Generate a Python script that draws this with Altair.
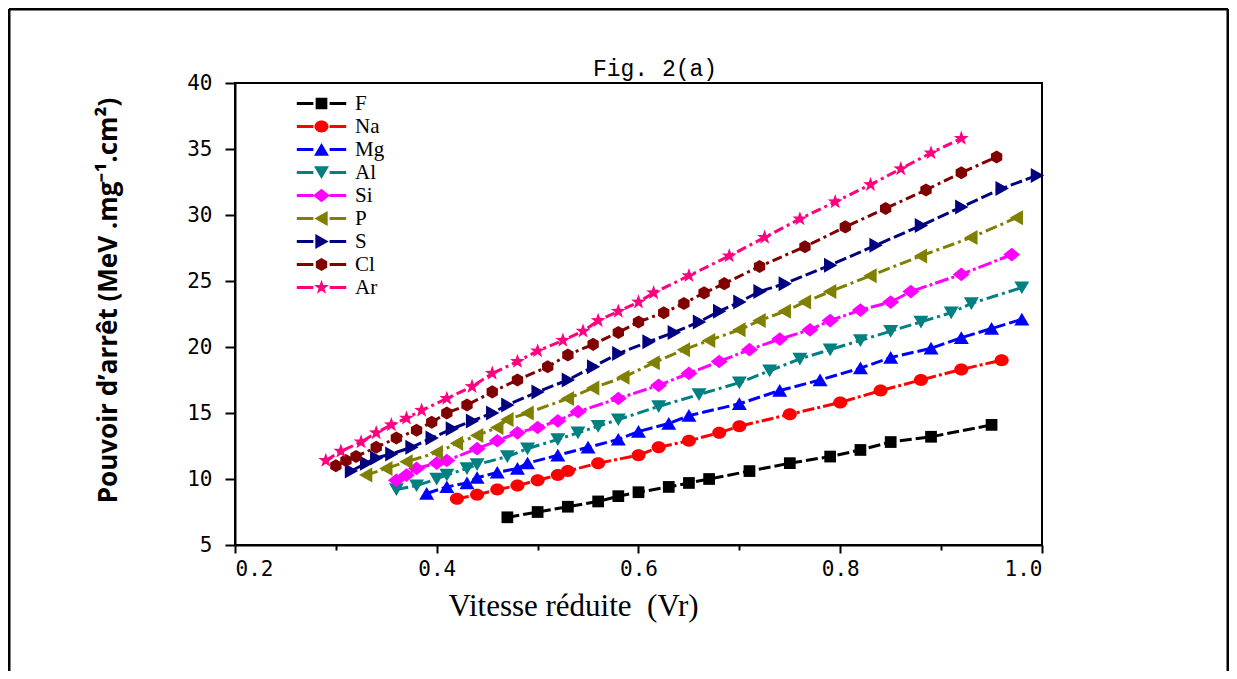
import math
import altair as alt
import pandas as pd

# ---------------- data ----------------
series = ["F", "Na", "Mg", "Al", "Si", "P", "S", "Cl", "Ar"]

F_x = [0.47, 0.50, 0.53, 0.56, 0.58, 0.60, 0.63, 0.65, 0.67, 0.71, 0.75, 0.79, 0.82, 0.85, 0.89, 0.95]
F_y = [7.1, 7.5, 7.9, 8.3, 8.7, 9.0, 9.4, 9.7, 10.0, 10.6, 11.2, 11.7, 12.2, 12.8, 13.2, 14.1]

Na_x = [0.42, 0.44, 0.46, 0.48, 0.50, 0.52, 0.53, 0.56, 0.60, 0.62, 0.65, 0.68, 0.70, 0.75, 0.80, 0.84, 0.88, 0.92, 0.96]
Na_y = [8.5, 8.8, 9.2, 9.5, 9.9, 10.3, 10.6, 11.2, 11.8, 12.4, 12.9, 13.5, 14.0, 14.9, 15.8, 16.7, 17.5, 18.3, 19.0]

Mg_x = [0.39, 0.41, 0.43, 0.44, 0.46, 0.48, 0.49, 0.52, 0.55, 0.58, 0.60, 0.63, 0.65, 0.70, 0.74, 0.78, 0.82, 0.85, 0.89, 0.92, 0.95, 0.98]
Mg_y = [8.9, 9.4, 9.7, 10.1, 10.5, 10.8, 11.2, 11.8, 12.4, 13.0, 13.6, 14.2, 14.8, 15.7, 16.7, 17.5, 18.4, 19.2, 19.9, 20.7, 21.4, 22.1]

Al_x = [0.36, 0.38, 0.40, 0.41, 0.43, 0.44, 0.47, 0.49, 0.52, 0.54, 0.56, 0.58, 0.62, 0.66, 0.70, 0.73, 0.76, 0.79, 0.82, 0.85, 0.88, 0.91, 0.93, 0.98]
Al_y = [9.2, 9.5, 10.0, 10.3, 10.8, 11.1, 11.7, 12.3, 13.0, 13.5, 14.0, 14.5, 15.5, 16.4, 17.3, 18.2, 19.1, 19.8, 20.5, 21.2, 21.9, 22.6, 23.3, 24.5]

Si_x = [0.36, 0.37, 0.38, 0.40, 0.41, 0.44, 0.46, 0.48, 0.50, 0.52, 0.54, 0.58, 0.62, 0.65, 0.68, 0.71, 0.74, 0.77, 0.79, 0.82, 0.85, 0.87, 0.92, 0.97]
Si_y = [9.9, 10.3, 10.8, 11.2, 11.4, 12.3, 12.9, 13.5, 13.9, 14.4, 15.1, 16.1, 17.1, 18.0, 18.9, 19.8, 20.6, 21.3, 22.0, 22.8, 23.4, 24.2, 25.5, 27.0]

P_x = [0.33, 0.35, 0.37, 0.40, 0.42, 0.44, 0.46, 0.47, 0.49, 0.53, 0.555, 0.585, 0.615, 0.645, 0.67, 0.70, 0.72, 0.745, 0.765, 0.79, 0.83, 0.88, 0.93, 0.975]
P_y = [10.3, 10.8, 11.3, 12.0, 12.7, 13.3, 13.9, 14.5, 15.0, 16.1, 16.9, 17.7, 18.8, 19.8, 20.5, 21.3, 22.0, 22.7, 23.4, 24.2, 25.4, 26.9, 28.3, 29.8]

S_x = [0.315, 0.33, 0.34, 0.355, 0.375, 0.395, 0.415, 0.435, 0.455, 0.47, 0.50, 0.53, 0.555, 0.58, 0.61, 0.635, 0.66, 0.68, 0.70, 0.72, 0.745, 0.79, 0.835, 0.88, 0.92, 0.96, 0.995]
S_y = [10.6, 11.2, 11.6, 11.9, 12.4, 13.1, 13.8, 14.4, 15.0, 15.6, 16.6, 17.5, 18.5, 19.5, 20.4, 21.1, 21.9, 22.7, 23.4, 24.2, 24.8, 26.2, 27.7, 29.2, 30.6, 32.0, 33.0]

Cl_x = [0.30, 0.31, 0.32, 0.34, 0.36, 0.38, 0.395, 0.41, 0.43, 0.455, 0.48, 0.51, 0.53, 0.555, 0.58, 0.60, 0.625, 0.645, 0.665, 0.685, 0.72, 0.765, 0.805, 0.845, 0.885, 0.92, 0.955]
Cl_y = [11.0, 11.4, 11.7, 12.4, 13.1, 13.7, 14.3, 15.0, 15.6, 16.6, 17.5, 18.5, 19.4, 20.2, 21.1, 21.9, 22.6, 23.3, 24.1, 24.8, 26.1, 27.6, 29.1, 30.5, 31.9, 33.2, 34.4]

Ar_x = [0.29, 0.305, 0.325, 0.34, 0.355, 0.37, 0.385, 0.41, 0.435, 0.455, 0.48, 0.50, 0.525, 0.545, 0.56, 0.58, 0.60, 0.615, 0.65, 0.69, 0.725, 0.76, 0.795, 0.83, 0.86, 0.89, 0.92]
Ar_y = [11.4, 12.1, 12.8, 13.5, 14.1, 14.6, 15.2, 16.1, 17.0, 18.0, 18.9, 19.7, 20.5, 21.2, 22.0, 22.7, 23.4, 24.1, 25.4, 26.9, 28.3, 29.7, 31.0, 32.3, 33.5, 34.7, 35.8]

x_ticks = [0.2, 0.3, 0.4, 0.5, 0.6, 0.7, 0.8, 0.9, 1.0]
y_ticks = [5, 7.5, 10, 12.5, 15, 17.5, 20, 22.5, 25, 27.5, 30, 32.5, 35, 37.5, 40]

chart_title = "Fig. 2(a)"
x_title = "Vitesse réduite \u00a0(Vr)"
y_title = "Pouvoir d\u2019arrêt (MeV .mg\u207b\u00b9.cm\u00b2)"

colors = ["#000000", "#FF0000", "#0000FF", "#008080", "#FF00FF", "#808000", "#000080", "#800000", "#FF0080"]
dashes = [[12, 4], [12, 3, 3, 3], [12, 4], [12, 4, 3, 4], [14, 3, 3, 3], [12, 4, 3, 4], [12, 4], [10, 4, 3, 4], [10, 4, 3, 4]]

# ---------------- marker shapes (unit paths) ----------------
def star_path(r_out=1.2, r_in=0.48):
    pts = []
    for i in range(10):
        r = r_out if i % 2 == 0 else r_in
        a = math.radians(-90 + 36 * i)
        pts.append((r * math.cos(a), r * math.sin(a)))
    return "M" + "L".join(f"{px:.3f},{py:.3f}" for px, py in pts) + "Z"

markers = [
    "M-0.9,-0.9H0.9V0.9H-0.9Z",
    "M-1.08,0A1.08,0.92 0 1,0 1.08,0A1.08,0.92 0 1,0 -1.08,0Z",
    "M0,-1L1.15,0.95H-1.15Z",
    "M0,1L1.15,-0.95H-1.15Z",
    "M0,-1.05L1.3,0L0,1.05L-1.3,0Z",
    "M-1.1,0L0.95,-1.15V1.15Z",
    "M1.1,0L-0.95,-1.15V1.15Z",
    "M0,-1L0.87,-0.5V0.5L0,1L-0.87,0.5V-0.5Z",
    star_path(),
]
leg_line = "M-3.8,-0.23H-1.25V0.23H-3.8Z M1.25,-0.23H3.8V0.23H1.25Z "
legend_markers = [leg_line + m for m in markers]

xs = [F_x, Na_x, Mg_x, Al_x, Si_x, P_x, S_x, Cl_x, Ar_x]
ys = [F_y, Na_y, Mg_y, Al_y, Si_y, P_y, S_y, Cl_y, Ar_y]
rows = []
for name, sx, sy in zip(series, xs, ys):
    for a, b in zip(sx, sy):
        rows.append({"series": name, "vr": a, "sp": b})
df = pd.DataFrame(rows)

xscale = alt.Scale(domain=[0.2, 1.0], nice=False, zero=False)
yscale = alt.Scale(domain=[5, 40], nice=False, zero=False)

x_axis = alt.Axis(
    values=x_ticks, title=x_title, grid=False, labelOverlap=False,
    labelExpr="round(datum.value*10) % 2 === 0 ? format(datum.value, '.1f') : ''",
    tickSize={"condition": {"test": "round(datum.value*10) % 2 === 0", "value": 8}, "value": 5},
    labelFont="DejaVu Sans Mono", labelFontSize=21, labelPadding=5, labelColor="black",
    titleFont="Liberation Serif", titleFontSize=31, titleFontWeight="normal", titleColor="black",
    titleX=338, titleY=70, titleBaseline="alphabetic", titleAnchor="start", titleAlign="center",
)
y_axis = alt.Axis(
    values=y_ticks, title=y_title, grid=False, labelOverlap=False,
    labelExpr="datum.value % 5 === 0 ? format(datum.value, 'd') : ''",
    tickSize={"condition": {"test": "datum.value % 5 === 0", "value": 10}, "value": 5},
    labelFont="DejaVu Sans Mono", labelFontSize=21, labelPadding=13, labelColor="black",
    titleFont="Open Sans", titleFontSize=26, titleFontWeight="bold", titleColor="black",
    titleX=-127, titleY=217, titleAngle=270, titleAlign="center", titleBaseline="middle",
)

base = alt.Chart(df)

lines = base.mark_line(strokeWidth=3).encode(
    x=alt.X("vr:Q", scale=xscale, axis=x_axis),
    y=alt.Y("sp:Q", scale=yscale, axis=y_axis),
    color=alt.Color("series:N", scale=alt.Scale(domain=series, range=colors), legend=None),
    strokeDash=alt.StrokeDash("series:N", scale=alt.Scale(domain=series, range=dashes), legend=None),
    detail="series:N",
)

points = base.mark_point(filled=True, size=170, opacity=1).encode(
    x=alt.X("vr:Q", scale=xscale),
    y=alt.Y("sp:Q", scale=yscale),
    color=alt.Color("series:N", scale=alt.Scale(domain=series, range=colors), legend=None),
    shape=alt.Shape("series:N", scale=alt.Scale(domain=series, range=markers), legend=None),
)

legend = alt.Legend(
    title=None, orient="none", legendX=76, legendY=10, padding=0,
    symbolSize=169, symbolStrokeWidth=0, labelFont="Liberation Serif", labelFontSize=21,
    labelColor="black", labelOffset=23, rowPadding=1, labelBaseline="middle", symbolOpacity=1,
)
legend_layer = base.mark_point(filled=True, opacity=1).encode(
    x=alt.X("vr:Q", scale=xscale),
    y=alt.Y("sp:Q", scale=yscale),
    color=alt.Color("series:N", scale=alt.Scale(domain=series, range=colors), legend=legend),
    shape=alt.Shape("series:N", scale=alt.Scale(domain=series, range=legend_markers), legend=legend),
).transform_filter("false")

one = alt.Chart(pd.DataFrame({"k": [0]}))
f_left = one.mark_rule(color="black", strokeWidth=3).encode(
    x=alt.value(-226), y=alt.value(-74), y2=alt.value(600))
f_right = one.mark_rule(color="black", strokeWidth=3).encode(
    x=alt.value(993), y=alt.value(-74), y2=alt.value(600))
f_top = one.mark_rule(color="black", strokeWidth=3).encode(
    x=alt.value(-226), x2=alt.value(993), y=alt.value(-74))
title_text = one.mark_text(
    font="Liberation Mono", fontSize=23, color="black", align="center", baseline="alphabetic"
).encode(x=alt.value(420), y=alt.value(-7), text=alt.value(chart_title))

chart = alt.layer(lines, points, legend_layer, f_left, f_right, f_top, title_text).resolve_scale(
    color="independent", shape="independent"
).properties(
    width=807, height=462,
    autosize=alt.AutoSizeParams(type="none"),
    padding={"left": 227, "top": 75, "right": 187, "bottom": 126},
    background="white",
).configure_view(
    stroke="black", strokeWidth=2
).configure_axis(
    domainColor="black", domainWidth=2, tickColor="black", tickWidth=2,
)

chart.save("out.html", embed_options={"renderer": "svg", "actions": False})
